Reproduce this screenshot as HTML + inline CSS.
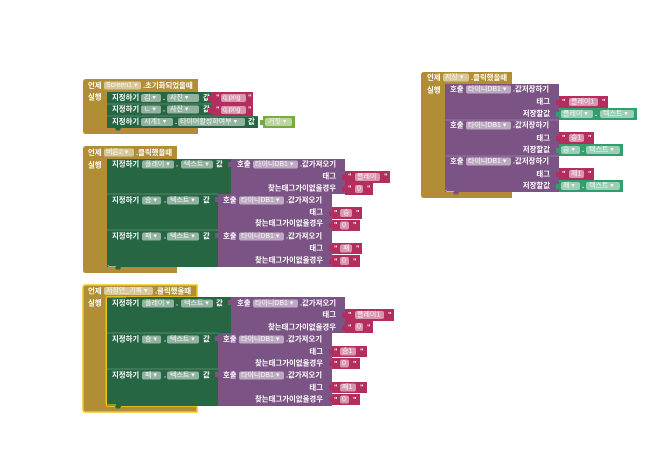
<!DOCTYPE html>
<html><head><meta charset="utf-8"><style>
html,body{margin:0;padding:0;background:#fff}
svg{display:block;filter:blur(.25px)}
text{font-family:"Liberation Sans","Noto Sans CJK KR",sans-serif;font-size:7.4px;font-weight:700;fill:#fff;dominant-baseline:central}
.f{fill:#fff;opacity:.5}
.s{font-weight:400;fill:#f6f6f6;font-size:7px}
.e{text-anchor:end}
.g{fill:#b18e35}.d{fill:#266643}.p{fill:#7c5385}.k{fill:#b32d5e}.m{fill:#329e6c}
.l{stroke:#fff;stroke-opacity:.3;stroke-width:.7}
</style></head><body>
<svg width="660" height="469" viewBox="0 0 660 469" xmlns="http://www.w3.org/2000/svg">
<rect width="660" height="469" fill="#fff"/>

<!-- Block 1 -->
<path class="g" d="M86 79H198V92H107V128H198V134H86Q83 134 83 131V82Q83 79 86 79Z"/>
<text x="88" y="85.500">언제</text><rect class="f" x="104" y="81.500" width="37" height="8" rx="2"/><text class="s" x="106" y="85.500">Screen1 ▾</text><text x="143" y="85.500">.초기화되었을때</text>
<text x="88" y="97">실행</text>
<rect class="d" x="107" y="92" width="104" height="24"/>
<rect class="d" x="107" y="116" width="151" height="12"/>
<path class="d" d="M115 128h6l-1 2.500h-4z"/>
<path class="l" d="M107 104H211M107 116H258" fill="none"/>
<text x="112" y="97.500">지정하기</text><rect class="f" x="141" y="94" width="20" height="8" rx="2"/><text class="s" x="144" y="98">김 ▾</text><text x="163" y="97.500">.</text><rect class="f" x="167" y="94" width="32" height="8" rx="2"/><text class="s" x="170" y="98">사진 ▾</text><text x="203" y="97.500">값</text>
<text x="112" y="109">지정하기</text><rect class="f" x="141" y="105.500" width="20" height="8" rx="2"/><text class="s" x="144" y="109.500">ㄴ ▾</text><text x="163" y="109">.</text><rect class="f" x="167" y="105.500" width="32" height="8" rx="2"/><text class="s" x="170" y="109.500">사진 ▾</text><text x="203" y="109">값</text>
<path class="k" d="M211 92H253V104H211V101H208V96H211Z"/>
<path class="k" d="M211 104H253V116H211V113H208V108H211Z"/>
<text x="216" y="97">"</text><rect class="f" x="221" y="94" width="25" height="8" rx="2"/><text class="s" x="223" y="98">q.png</text><text x="248" y="97">"</text>
<text x="216" y="109">"</text><rect class="f" x="221" y="106" width="25" height="8" rx="2"/><text class="s" x="223" y="110">q.png</text><text x="248" y="109">"</text>
<text x="112" y="121.500">지정하기</text><rect class="f" x="141" y="118" width="32" height="8" rx="2"/><text class="s" x="144" y="122">시계1 ▾</text><text x="175" y="121.500">.</text><rect class="f" x="178" y="118" width="67" height="8" rx="2"/><text class="s" x="180" y="122">타이머활성화여부 ▾</text><text x="248" y="121.500">값</text>
<path d="M263 116H295V128H263V125H260V120H263Z" fill="#77ab41"/>
<rect class="f" x="265" y="118" width="27" height="8" rx="2"/><text class="s" x="268" y="122">거짓 ▾</text>

<!-- Block 2 -->
<path class="g" d="M86 146H177V159H107V267H177V273H86Q83 273 83 270V149Q83 146 86 146Z"/>
<text x="88" y="152.500">언제</text><rect class="f" x="104" y="148.500" width="30" height="8" rx="2"/><text class="s" x="106" y="152.500">버튼2 ▾</text><text x="136" y="152.500">.클릭했을때</text>
<text x="88" y="165">실행</text>
<rect class="d" x="107" y="159" width="124" height="35"/>
<rect class="d" x="107" y="194" width="111" height="73"/>
<path class="d" d="M115 267h6l-1 2.500h-4z"/>
<path class="l" d="M107 194H218M107 230H218" fill="none"/>
<path d="M108 265Q108 266.500 110 266.500H116" stroke="#fff" stroke-opacity=".7" fill="none" stroke-width=".8"/>
<text x="112" y="164">지정하기</text><rect class="f" x="142" y="160.500" width="32" height="8" rx="2"/><text class="s" x="145" y="164.500">플레이 ▾</text><text x="176" y="164">.</text><rect class="f" x="181" y="160.500" width="32" height="8" rx="2"/><text class="s" x="184" y="164.500">텍스트 ▾</text><text x="216" y="164">값</text>
<text x="112" y="200">지정하기</text><rect class="f" x="142" y="196.500" width="19" height="8" rx="2"/><text class="s" x="145" y="200.500">승 ▾</text><text x="164" y="200">.</text><rect class="f" x="167" y="196.500" width="32" height="8" rx="2"/><text class="s" x="170" y="200.500">텍스트 ▾</text><text x="203" y="200">값</text>
<text x="112" y="236">지정하기</text><rect class="f" x="142" y="232.500" width="19" height="8" rx="2"/><text class="s" x="145" y="236.500">패 ▾</text><text x="164" y="236">.</text><rect class="f" x="167" y="232.500" width="32" height="8" rx="2"/><text class="s" x="170" y="236.500">텍스트 ▾</text><text x="203" y="236">값</text>

<g transform="translate(231,159)">
<rect class="p" width="114" height="35"/>
<path class="p" d="M0 3H-3V8H0Z"/>
<text x="6" y="5">호출</text><rect class="f" x="22" y="1.500" width="45" height="8" rx="2"/><text class="s" x="24" y="5.500">타이니DB1 ▾</text><text x="69" y="5">.값가져오기</text>
<text class="e" x="105" y="17">태그</text><text class="e" x="105" y="29">찾는태그가이없을경우</text>
<path class="k" d="M114 12H159V24H114V21H111V16H114Z"/><text x="117" y="17">"</text><rect class="f" x="124" y="14" width="25" height="8" rx="2"/><text class="s" x="126" y="18">플레이</text><text x="153" y="17">"</text>
<path class="k" d="M114 24H142V36H114V33H111V28H114Z"/><text x="117" y="29">"</text><rect class="f" x="124" y="26" width="8" height="8" rx="2"/><text class="s" x="126" y="30">0</text><text x="136" y="29">"</text>
</g>
<g transform="translate(218,194)">
<rect class="p" width="114" height="36"/>
<path class="p" d="M0 3H-3V8H0Z"/>
<text x="5" y="6">호출</text><rect class="f" x="21" y="2.500" width="45" height="8" rx="2"/><text class="s" x="23" y="6.500">타이니DB1 ▾</text><text x="68" y="6">.값가져오기</text>
<text class="e" x="105" y="18">태그</text><text class="e" x="105" y="29">찾는태그가이없을경우</text>
<path class="k" d="M114 13H144V25H114V22H111V17H114Z"/><text x="116" y="18.500">"</text><rect class="f" x="122" y="15" width="12" height="8" rx="2"/><text class="s" x="125" y="19">승</text><text x="138" y="18.500">"</text>
<path class="k" d="M114 26H142V37H114V34H111V29H114Z"/><text x="116" y="30.500">"</text><rect class="f" x="122" y="27.500" width="9" height="8" rx="2"/><text class="s" x="124" y="31.500">0</text><text x="135" y="30.500">"</text>
</g>
<g transform="translate(218,230)">
<rect class="p" width="114" height="37"/>
<path class="p" d="M0 3H-3V8H0Z"/>
<text x="5" y="6">호출</text><rect class="f" x="21" y="2.500" width="45" height="8" rx="2"/><text class="s" x="23" y="6.500">타이니DB1 ▾</text><text x="68" y="6">.값가져오기</text>
<text class="e" x="105" y="18">태그</text><text class="e" x="105" y="30">찾는태그가이없을경우</text>
<path class="k" d="M114 13H144V24H114V21H111V16H114Z"/><text x="116" y="18">"</text><rect class="f" x="122" y="14.500" width="12" height="8" rx="2"/><text class="s" x="125" y="18.500">패</text><text x="138" y="18">"</text>
<path class="k" d="M114 25H142V37H114V34H111V29H114Z"/><text x="116" y="31">"</text><rect class="f" x="122" y="27" width="9" height="8" rx="2"/><text class="s" x="124" y="31">0</text><text x="135" y="31">"</text>
</g>

<!-- Block 3 -->
<path class="g" d="M86 285H197V297H107V406H197V412H86Q83 412 83 409V288Q83 285 86 285Z" stroke="#f5c518" stroke-width="1.500"/>
<text x="88" y="291">언제</text><rect class="f" x="104" y="287" width="49" height="8" rx="2"/><text class="s" x="106" y="291">저장안_기록 ▾</text><text x="155" y="291">.클릭했을때</text>
<text x="88" y="303">실행</text>
<rect class="d" x="107" y="297" width="124" height="36"/>
<rect class="d" x="107" y="333" width="111" height="73"/>
<path class="d" d="M115 406h6l-1 2.500h-4z"/>
<path class="l" d="M107 333H218M107 369H218" fill="none"/>
<path d="M107 297H126M106 298V403Q106 405 108 405H116" stroke="#f5c518" fill="none" stroke-width=".9"/>
<text x="112" y="303">지정하기</text><rect class="f" x="142" y="299.500" width="32" height="8" rx="2"/><text class="s" x="145" y="303.500">플레이 ▾</text><text x="176" y="303">.</text><rect class="f" x="181" y="299.500" width="32" height="8" rx="2"/><text class="s" x="184" y="303.500">텍스트 ▾</text><text x="216" y="303">값</text>
<text x="112" y="339">지정하기</text><rect class="f" x="142" y="335.500" width="19" height="8" rx="2"/><text class="s" x="145" y="339.500">승 ▾</text><text x="164" y="339">.</text><rect class="f" x="167" y="335.500" width="32" height="8" rx="2"/><text class="s" x="170" y="339.500">텍스트 ▾</text><text x="203" y="339">값</text>
<text x="112" y="375">지정하기</text><rect class="f" x="142" y="371.500" width="19" height="8" rx="2"/><text class="s" x="145" y="375.500">패 ▾</text><text x="164" y="375">.</text><rect class="f" x="167" y="371.500" width="32" height="8" rx="2"/><text class="s" x="170" y="375.500">텍스트 ▾</text><text x="203" y="375">값</text>

<g transform="translate(231,297)">
<rect class="p" width="114" height="36"/>
<path class="p" d="M0 3H-3V8H0Z"/>
<text x="6" y="6">호출</text><rect class="f" x="22" y="2.500" width="45" height="8" rx="2"/><text class="s" x="24" y="6.500">타이니DB1 ▾</text><text x="69" y="6">.값가져오기</text>
<text class="e" x="105" y="17.500">태그</text><text class="e" x="105" y="30">찾는태그가이없을경우</text>
<path class="k" d="M114 12H163V24H114V21H111V16H114Z"/><text x="117" y="17.500">"</text><rect class="f" x="124" y="14" width="29" height="8" rx="2"/><text class="s" x="126" y="18">플레이1</text><text x="157" y="17.500">"</text>
<path class="k" d="M114 24H142V36H114V33H111V28H114Z"/><text x="117" y="30">"</text><rect class="f" x="124" y="26" width="8" height="8" rx="2"/><text class="s" x="126" y="30">0</text><text x="136" y="30">"</text>
</g>
<g transform="translate(218,333)">
<rect class="p" width="114" height="36"/>
<path class="p" d="M0 3H-3V8H0Z"/>
<text x="5" y="6">호출</text><rect class="f" x="21" y="2.500" width="45" height="8" rx="2"/><text class="s" x="23" y="6.500">타이니DB1 ▾</text><text x="68" y="6">.값가져오기</text>
<text class="e" x="105" y="18.500">태그</text><text class="e" x="105" y="30">찾는태그가이없을경우</text>
<path class="k" d="M114 13H149V24H114V21H111V16H114Z"/><text x="116" y="18">"</text><rect class="f" x="122" y="14.500" width="16" height="8" rx="2"/><text class="s" x="124" y="18.500">승1</text><text x="142" y="18">"</text>
<path class="k" d="M114 25H142V36H114V33H111V28H114Z"/><text x="116" y="30.500">"</text><rect class="f" x="122" y="26.500" width="9" height="8" rx="2"/><text class="s" x="124" y="30.500">0</text><text x="135" y="30.500">"</text>
</g>
<g transform="translate(218,369)">
<rect class="p" width="114" height="37"/>
<path class="p" d="M0 3H-3V8H0Z"/>
<text x="5" y="6">호출</text><rect class="f" x="21" y="2.500" width="45" height="8" rx="2"/><text class="s" x="23" y="6.500">타이니DB1 ▾</text><text x="68" y="6">.값가져오기</text>
<text class="e" x="105" y="18.500">태그</text><text class="e" x="105" y="30">찾는태그가이없을경우</text>
<path class="k" d="M114 13H149V24H114V21H111V16H114Z"/><text x="116" y="18">"</text><rect class="f" x="122" y="14.500" width="16" height="8" rx="2"/><text class="s" x="124" y="18.500">패1</text><text x="142" y="18">"</text>
<path class="k" d="M114 25H142V36H114V33H111V28H114Z"/><text x="116" y="30.500">"</text><rect class="f" x="122" y="26.500" width="9" height="8" rx="2"/><text class="s" x="124" y="30.500">0</text><text x="135" y="30.500">"</text>
</g>

<!-- Block 4 -->
<path class="g" d="M424 72H512V84H445V192H512V198H424Q421 198 421 195V75Q421 72 424 72Z"/>
<text x="427" y="77.500">언제</text><rect class="f" x="443" y="73.500" width="26" height="8" rx="2"/><text class="s" x="445" y="77.500">저장 ▾</text><text x="471" y="77.500">.클릭했을때</text>
<text x="427" y="90">실행</text>
<rect class="p" x="445" y="84" width="114" height="108"/>
<path class="p" d="M453 192h6l-1 2.500h-4z"/>
<path class="l" d="M445 120H559M445 156H559" fill="none"/>
<path d="M446 190Q446 191.500 448 191.500H454" stroke="#fff" stroke-opacity=".7" fill="none" stroke-width=".8"/>

<g transform="translate(445,84)">
<text x="5" y="5">호출</text><rect class="f" x="21" y="1.500" width="45" height="8" rx="2"/><text class="s" x="23" y="5.500">타이니DB1 ▾</text><text x="68" y="5">.값저장하기</text>
<text class="e" x="105" y="17.500">태그</text><text class="e" x="105" y="29.500">저장할값</text>
<path class="k" d="M114 12H163V24H114V21H111V16H114Z"/><text x="117" y="17.500">"</text><rect class="f" x="124" y="14" width="29" height="8" rx="2"/><text class="s" x="126" y="18">플레이1</text><text x="157" y="17.500">"</text>
<path class="m" d="M114 24H192V36H114V33H111V28H114Z"/><rect class="f" x="116" y="26" width="32" height="8" rx="2"/><text class="s" x="118" y="30">플레이 ▾</text><text x="150" y="29.500">.</text><rect class="f" x="155" y="26" width="34" height="8" rx="2"/><text class="s" x="158" y="30">텍스트 ▾</text>
</g>
<g transform="translate(445,120)">
<text x="5" y="5">호출</text><rect class="f" x="21" y="1.500" width="45" height="8" rx="2"/><text class="s" x="23" y="5.500">타이니DB1 ▾</text><text x="68" y="5">.값저장하기</text>
<text class="e" x="105" y="18">태그</text><text class="e" x="105" y="29.500">저장할값</text>
<path class="k" d="M114 12H149V24H114V21H111V16H114Z"/><text x="117" y="17.500">"</text><rect class="f" x="124" y="14" width="15" height="8" rx="2"/><text class="s" x="126" y="18">승1</text><text x="143" y="17.500">"</text>
<path class="m" d="M114 24H178V36H114V33H111V28H114Z"/><rect class="f" x="116" y="26" width="19" height="8" rx="2"/><text class="s" x="118" y="30">승 ▾</text><text x="137" y="29.500">.</text><rect class="f" x="141" y="26" width="34" height="8" rx="2"/><text class="s" x="144" y="30">텍스트 ▾</text>
</g>
<g transform="translate(445,156)">
<text x="5" y="5">호출</text><rect class="f" x="21" y="1.500" width="45" height="8" rx="2"/><text class="s" x="23" y="5.500">타이니DB1 ▾</text><text x="68" y="5">.값저장하기</text>
<text class="e" x="105" y="18">태그</text><text class="e" x="105" y="29.500">저장할값</text>
<path class="k" d="M114 12H149V24H114V21H111V16H114Z"/><text x="117" y="17.500">"</text><rect class="f" x="124" y="14" width="15" height="8" rx="2"/><text class="s" x="126" y="18">패1</text><text x="143" y="17.500">"</text>
<path class="m" d="M114 24H178V36H114V33H111V28H114Z"/><rect class="f" x="116" y="26" width="19" height="8" rx="2"/><text class="s" x="118" y="30">패 ▾</text><text x="137" y="29.500">.</text><rect class="f" x="141" y="26" width="34" height="8" rx="2"/><text class="s" x="144" y="30">텍스트 ▾</text>
</g>
</svg>
</body></html>
